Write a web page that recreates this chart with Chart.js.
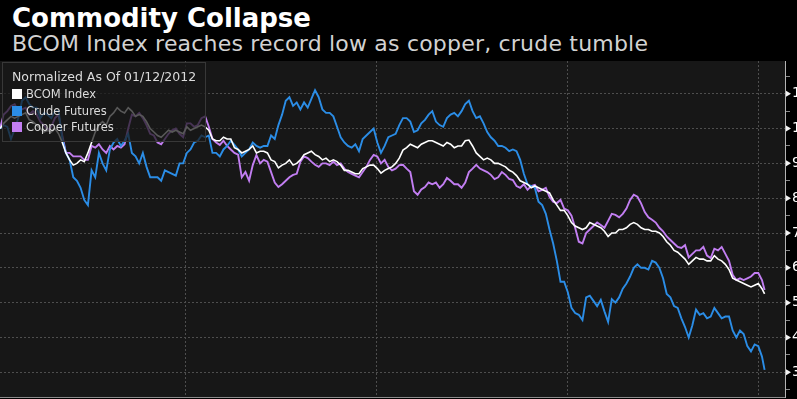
<!DOCTYPE html>
<html>
<head>
<meta charset="utf-8">
<script src="https://cdn.jsdelivr.net/npm/chart.js@4.4.1/dist/chart.umd.min.js"></script>
<style>
  html, body { margin: 0; padding: 0; background: #000; }
  #wrap { position: relative; width: 797px; height: 399px; overflow: hidden; background: #000; }
  #title { position: absolute; left: 12px; top: 5px; font: bold 26px "DejaVu Sans"; line-height: 26px; color: #fff; white-space: nowrap; }
  #subtitle { position: absolute; left: 12px; top: 33px; font: 22px "DejaVu Sans"; line-height: 22px; letter-spacing: 0.2px; color: #d2d2d2; white-space: nowrap; }
  #box { position: absolute; left: 0; top: 61px; width: 830px; height: 338px; }
  #legend { position: absolute; left: 2px; top: 62px; width: 204px; height: 80px; box-sizing: border-box;
            background: rgba(24,24,24,0.72); border: 1px solid #383838; padding: 6px 0 0 9px;
            font-family: "DejaVu Sans"; color: #dcdcdc; }
  #legend .hd { font-size: 12.5px; line-height: 16.8px; white-space: nowrap; }
  #legend .it { font-size: 11.5px; line-height: 16.8px; white-space: nowrap; }
  #legend .sw { display: inline-block; width: 10px; height: 10px; margin-right: 4px; vertical-align: -1px; }
</style>
</head>
<body>
<div id="wrap">
  <div id="title">Commodity Collapse</div>
  <div id="subtitle">BCOM Index reaches record low as copper, crude tumble</div>
  <div id="box"><canvas id="chart"></canvas></div>
  <div id="legend"></div>
</div>
<script>
// days since 01/12/2012, weekly
const days = [0,7,14,21,28,35,42,49,56,63,
  70,77,84,91,98,105,112,119,126,133,
  140,147,154,161,168,175,182,189,196,203,
  210,217,224,231,238,245,252,259,266,273,
  280,287,294,301,308,315,322,329,336,343,
  350,357,364,371,378,385,392,399,406,413,
  420,427,434,441,448,455,462,469,476,483,
  490,497,504,511,518,525,532,539,546,553,
  560,567,574,581,588,595,602,609,616,623,
  630,637,644,651,658,665,672,679,686,693,
  700,707,714,721,728,735,742,749,756,763,
  770,777,784,791,798,805,812,819,826,833,
  840,847,854,861,868,875,882,889,896,903,
  910,917,924,931,938,945,952,959,966,973,
  980,987,994,1001,1008,1015,1022,1029,1036,1043,
  1050,1057,1064,1071,1078,1085,1092,1099,1106,1113,
  1120,1127,1134,1141,1148,1155,1162,1169,1176,1183,
  1190,1197,1204,1211,1218,1225,1232,1239,1246,1253,
  1260,1267,1274,1281,1288,1295,1302,1309,1316,1323,
  1330,1337,1344,1351,1358,1365,1372,1379,1386,1393,
  1400,1407,1414,1421,1428,1435,1442,1449,1456,1461];

const bcom = [100,101.5,102.5,103.5,103,103.5,104,104.5,102.5,102,
  101,100,99,99.5,99,100,98.5,96,93,91,
  89.5,90,91,90.5,93,96,99,101,102,101,
  103.5,104.5,106,105,104.5,106,105,103.5,104,103.5,
  102,100,99,98,97.5,98.5,99.5,99,99.5,99,
  98.5,100.5,99.5,100,100.5,101,100.5,99.5,97,96.5,
  96.5,97.5,97,97,94.5,94,93,93.5,94,95,
  93,93.5,93.5,93,91,90.5,88.7,89.5,90,91,
  89.5,90,91,92.5,93,93.5,92.5,92,91,91.5,
  90.5,91,90.5,89.5,88,88,87.5,87,87,88.5,
  89,89.5,89.5,88.5,87.2,88,88.5,89,90,91.5,
  93.8,94.5,95.5,95,94.5,95.5,96,96.5,96.5,96,
  95.5,95,96,95.5,94.5,95,95,96.5,96.7,95,
  93,92,91,91.5,91,90,90,89.5,89,88,
  87.5,86.5,85,84.5,84,83,83.5,83,82.5,82,
  81.5,79.5,78,76.5,76.5,75,73,72,71.5,71,
  71.5,73,72.5,72,71.5,70.5,69,70,70,71,
  71,71.5,72.5,73,72.5,71.5,71,71,70.5,70.5,
  70,69,67.5,66.5,65,64.5,63.5,62.5,61,62,
  63,62.5,62.5,62,62,63.5,62.5,62,61,59.5,
  57,56.5,56,55.5,55,54.5,55,55.5,54,52.5];

const crude = [100,101,100.5,97,99.8,103,108,109,107,106,
  106,103,104.5,104,103,105,105,97,93,91,
  86,85,83,79.5,78,88,86,93,90,88,
  94,96,97,95,96.5,98.5,93,92,90,93,
  89,86,86,86,85,88,87.5,87,86.5,90,
  90,93,94,96,96.5,98,97.5,98,93,93,
  92,94,95,96.5,95.3,94,92,93,94,96,
  95,94.5,95,95,98,97,101,104,108,109,
  106.5,107.5,105.5,107.5,106,108.5,111,109,105.5,104.5,
  104.5,103.5,100.5,97.5,96,95,94.5,95.5,93.5,97,
  98,99,100,96,93,95,97.5,98,98.5,101,
  103,103,102,99,99.5,101.5,102.5,104,105,102,
  101,100.5,103,104,104.5,103.5,105,107,108,105,
  103,103.5,101.5,99,97.5,96.5,95,95,94.5,93.5,
  94,93.5,91,87,84,83.5,83,79,78,75.5,
  71,67,62,56,56,53,48.5,47,46.5,45,
  51.5,52,50.5,49,50.8,47.5,44.5,51,50,51.5,
  54,55.5,57.5,60,61,60,60,59.5,62,61.5,
  60,57,52.5,51.5,49,48.5,45.5,43,40,43.5,
  48,46.5,47,45.5,46,48.5,47,45.5,46,46,
  42,40,42,41,37.5,36,38,37.5,34.5,30.7];

const copper = [100,104,105,106.5,107,105,105.5,106,104,105,
  104,102,101,99.5,100.5,103,104,98,93,93,
  92,92,92,91,91,95,94.5,95.5,94,93,
  95,94,95,94.5,95.5,100,104,103.5,104.5,103,
  101,98.5,98,96,95.5,97,98.5,99.5,100,98.5,
  97.5,101.5,101.5,100.5,101,103,103.5,100.5,97,96,
  95.3,96.5,95,94,93,92.5,86,87.5,85,89.5,
  92.4,90,91,90.5,87.5,84.5,83.2,84,85,86,
  86.7,87,90.5,92,91.5,90.5,89.6,89,90,90,
  89.5,90.5,89.5,90,88.5,87.5,87,86.5,86,87.5,
  89,91,92.4,92,90,91,89,88,88.5,89.5,
  89.6,88.5,87.5,82,81,82.5,83.2,84.5,84,84.5,
  83,84,85.8,85,84,84,83,84.5,87.5,88.5,
  89.6,88.5,88,87.5,86.7,85.5,86,87.5,86.7,85.5,
  85.2,83.5,83,84,82.4,83.5,83.8,82,82.4,83,
  80.4,79,78.6,79.5,77,76.5,75,71.5,67.5,67,
  70,71,72,73,72.3,71.5,73.5,75.5,75.2,74.5,
  75.5,77,79.5,81,80.4,78.5,76,74.5,73.8,73,
  71.5,70.5,69,68,67,66,65.7,66.5,63,64,
  65,65,66,63.5,62.8,65.5,65,66,64,62,
  58,56.5,57,56.5,57,57.5,58.5,58.5,56.5,53.6];

const seriesNames = ['BCOM Index', 'Crude Futures', 'Copper Futures'];
const seriesColors = ['#ffffff', '#2b8de6', '#c27ef2'];
const yearStarts = [355, 720, 1085, 1450];   // Jan 1 2013..2016
const yTicks = [25,30,35,40,45,50,55,60,65,70,75,80,85,90,95,100,105,110,115];

const legendEl = document.getElementById('legend');
let html = '<div class="hd">Normalized As Of 01/12/2012</div>';
seriesNames.forEach((n, i) => {
  html += '<div class="it"><span class="sw" style="background:' + seriesColors[i] + '"></span>' + n + '</div>';
});
legendEl.innerHTML = html;

const toPts = arr => days.map((d, i) => ({ x: d, y: arr[i] }));

const panel = {
  id: 'panel',
  beforeDraw(c) {
    const { ctx, chartArea: a } = c;
    ctx.save();
    ctx.fillStyle = '#000';
    ctx.fillRect(0, 0, c.width, c.height);
    ctx.fillStyle = '#171717';
    ctx.fillRect(a.left, a.top, a.right - a.left, a.bottom - a.top);
    ctx.restore();
  },
  afterDraw(c) {
    const { ctx, chartArea: a } = c;
    const y = c.scales.y;
    ctx.save();
    ctx.fillStyle = '#f2f2f2';
    yTicks.filter(v => v % 10 === 0).forEach(v => {
      const py = y.getPixelForValue(v);
      ctx.beginPath();
      ctx.moveTo(a.right + 1, py - 3);
      ctx.lineTo(a.right + 6, py);
      ctx.lineTo(a.right + 1, py + 3);
      ctx.closePath();
      ctx.fill();
    });
    ctx.restore();
  }
};

new Chart(document.getElementById('chart'), {
  type: 'line',
  data: {
    datasets: [
      { label: seriesNames[0], data: toPts(bcom), borderColor: seriesColors[0], borderWidth: 1.6 },
      { label: seriesNames[1], data: toPts(crude), borderColor: seriesColors[1], borderWidth: 1.9 },
      { label: seriesNames[2], data: toPts(copper), borderColor: seriesColors[2], borderWidth: 1.9 }
    ]
  },
  options: {
    animation: false,
    responsive: true,
    maintainAspectRatio: false,
    devicePixelRatio: 1,
    elements: { point: { radius: 0 }, line: { tension: 0 } },
    layout: { autoPadding: false, padding: { left: 0, right: 0, top: 0, bottom: 2 } },
    plugins: { legend: { display: false }, tooltip: { enabled: false } },
    scales: {
      x: {
        type: 'linear', min: 0, max: 1500,
        afterBuildTicks: s => { s.ticks = yearStarts.map(v => ({ value: v })); },
        ticks: { display: false, autoSkip: false },
        grid: { color: '#4e4e4e', drawTicks: false },
        border: { color: '#8c8c8c', dash: [2, 2] }
      },
      y: {
        position: 'right', min: 22.9, max: 119.4,
        afterBuildTicks: s => { s.ticks = yTicks.map(v => ({ value: v })); },
        afterFit: s => { s.width = 45; s.paddingTop = 0; s.paddingBottom = 0; },
        ticks: {
          autoSkip: false,
          color: '#ffffff', padding: 2,
          font: { family: 'DejaVu Sans', size: 14 },
          callback: v => (v % 10 === 0 ? String(v) : '')
        },
        grid: {
          color: c => (c.tick && c.tick.value % 10 === 0 ? '#4e4e4e' : 'rgba(0,0,0,0)'),
          tickColor: c => (c.tick && c.tick.value % 10 === 0 ? 'rgba(0,0,0,0)' : '#8a8a8a'),
          tickLength: 5
        },
        border: { color: '#b4b4b4', dash: [2, 2] }
      }
    }
  },
  plugins: [panel]
});
</script>
</body>
</html>
